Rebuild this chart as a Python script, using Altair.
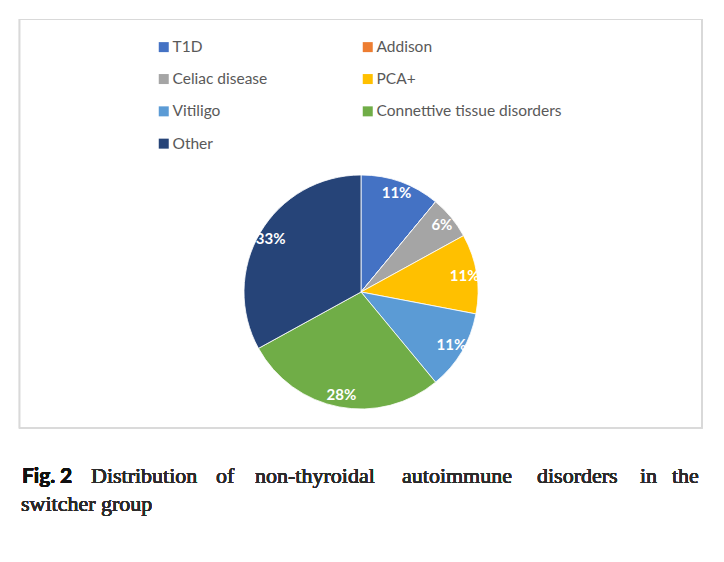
import altair as alt
import pandas as pd

# Non-thyroidal autoimmune disorders in the switcher group (percent of patients)
categories = ["T1D", "Addison", "Celiac disease", "PCA+", "Vitiligo",
              "Connettive tissue disorders", "Other"]
percents = [11, 0, 6, 11, 11, 28, 33]
colors = ["#4472C4", "#ED7D31", "#A5A5A5", "#FFC000", "#5B9BD5",
          "#70AD47", "#264478"]

caption_bold = ["Fig.", "2"]
caption_line1 = ["Distribution", "of", "non-thyroidal", "autoimmune",
                 "disorders", "in", "the"]
caption_line2 = "switcher group"

df = pd.DataFrame({
    "category": categories,
    "pct": percents,
    "idx": list(range(len(categories))),
})

# legend is filled column by column; list the entries so that they read
# left-to-right in two columns
legend_order = categories[0::2] + categories[1::2]
legend_colors = [colors[categories.index(c)] for c in legend_order]

W, H = 724, 562
CX, CY, R = 361, 292, 117

base = alt.Chart(df).encode(
    theta=alt.Theta("pct:Q", stack=True),
    order=alt.Order("idx:Q"),
    x=alt.value(CX),
    y=alt.value(CY),
)

pie = base.mark_arc(radius=R, stroke="white", strokeWidth=0.8).encode(
    color=alt.Color(
        "category:N",
        scale=alt.Scale(domain=legend_order, range=legend_colors),
        legend=alt.Legend(
            title=None, orient="none", legendX=156, legendY=39,
            columns=2, columnPadding=92, rowPadding=15.3,
            symbolType="square", symbolSize=100, symbolStrokeWidth=0,
            labelFont="Lato", labelFontSize=15.5, labelColor="#595959",
            labelOffset=1, labelLimit=300,
        ),
    )
)

labels = base.transform_calculate(
    label="datum.pct > 0 ? datum.pct + '%' : ''"
).mark_text(
    radius=105, font="Lato", fontSize=15, fontWeight="bold", color="white"
).encode(text="label:N")

# light grey frame around the chart area
frame = alt.Chart(df).mark_rect(
    fill=None, stroke="#D9D9D9", strokeWidth=1.2
).encode(
    x=alt.value(19.5), x2=alt.value(702), y=alt.value(19.5), y2=alt.value(428)
)

# caption: bold figure number, then justified serif text
bold_x = [22, 60]
line1_x = [91, 216, 255, 402, 537, 640, 672]
BASE1, BASE2 = 483, 511

caption_layers = []
for word, xpos in zip(caption_bold, bold_x):
    caption_layers.append(
        alt.Chart(df).mark_text(
            text=word, align="left", baseline="alphabetic",
            font="Lato", fontSize=21, fontWeight="bold", color="#111111"
        ).encode(x=alt.value(xpos), y=alt.value(BASE1))
    )
for word, xpos in zip(caption_line1, line1_x):
    caption_layers.append(
        alt.Chart(df).mark_text(
            text=word, align="left", baseline="alphabetic",
            font="Liberation Serif", fontSize=22, fontWeight="normal",
            color="#2a2a2a"
        ).encode(x=alt.value(xpos), y=alt.value(BASE1))
    )
caption_layers.append(
    alt.Chart(df).mark_text(
        text=caption_line2, align="left", baseline="alphabetic",
        font="Liberation Serif", fontSize=22, fontWeight="normal",
        color="#2a2a2a"
    ).encode(x=alt.value(21), y=alt.value(BASE2))
)

chart = alt.layer(frame, pie, labels, *caption_layers).properties(
    width=W, height=H, padding=0, autosize=alt.AutoSizeParams(type="none"),
    background="white",
).configure_view(stroke=None)

chart.save("out.html", embed_options={"renderer": "svg", "actions": False})
